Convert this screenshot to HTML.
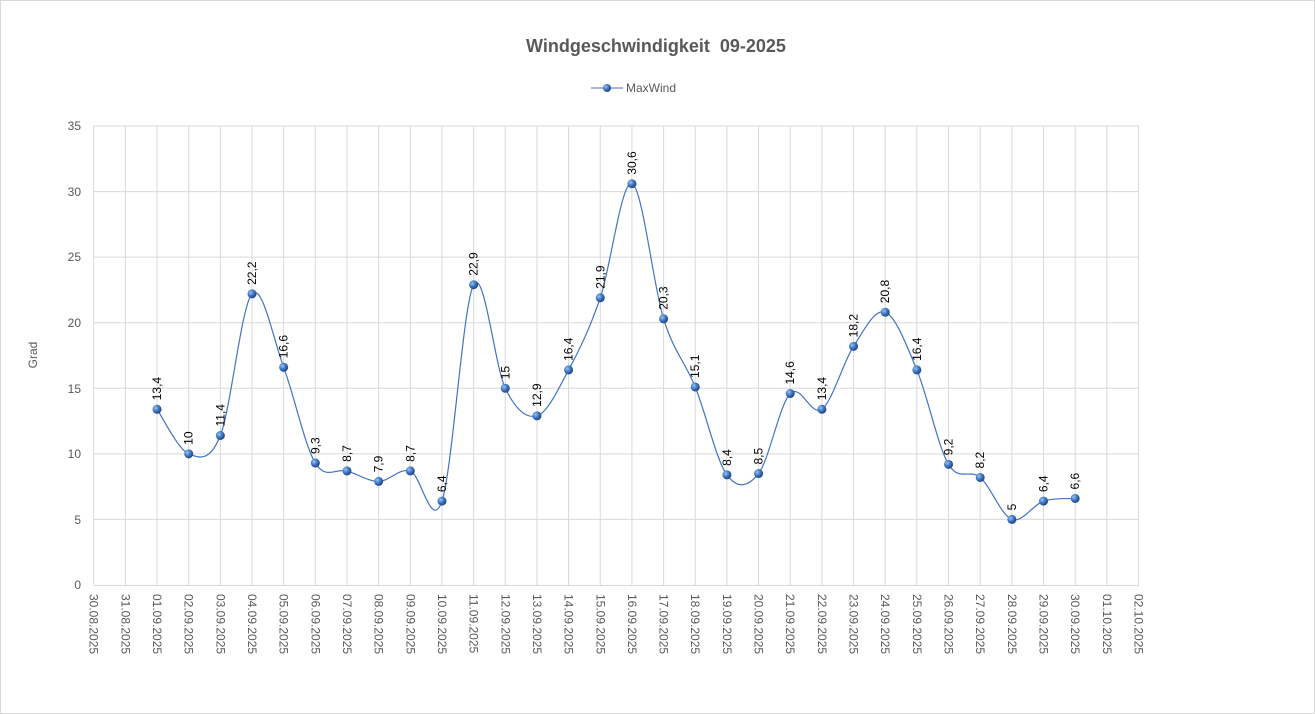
<!DOCTYPE html>
<html><head><meta charset="utf-8"><style>
html,body{margin:0;padding:0;background:#fff}
svg{display:block;font-family:"Liberation Sans",sans-serif}
</style></head><body>
<svg id="s" width="1315" height="714" viewBox="0 0 1315 714" xmlns="http://www.w3.org/2000/svg">
<defs><radialGradient id="g" cx="35%" cy="35%" r="70%"><stop offset="0" stop-color="#9cc3f0"/><stop offset="0.5" stop-color="#3f78c4"/><stop offset="1" stop-color="#1c3f78"/></radialGradient></defs>
<rect x="0.5" y="0.5" width="1314" height="713" fill="#fff" stroke="#d9d9d9"/>
<text x="656" y="52" text-anchor="middle" font-size="18" font-weight="bold" fill="#595959" style="white-space:pre">Windgeschwindigkeit  09-2025</text>
<line x1="591" y1="88" x2="623" y2="88" stroke="#4472c4" stroke-width="1"/>
<circle cx="607" cy="88" r="4" fill="url(#g)"/>
<text x="626" y="92" font-size="12" fill="#595959">MaxWind</text>
<text transform="translate(37,355) rotate(-90)" text-anchor="middle" font-size="12" fill="#595959">Grad</text>
<g id="grid" stroke="#d9d9d9" stroke-width="1"></g>
<g font-size="12" fill="#595959" text-anchor="end">
<text x="81" y="589">0</text><text x="81" y="524">5</text><text x="81" y="458">10</text><text x="81" y="393">15</text><text x="81" y="327">20</text><text x="81" y="261">25</text><text x="81" y="196">30</text><text x="81" y="130">35</text>
</g>
<g id="xl" font-size="12" fill="#595959"></g>
<path id="ln" fill="none" stroke="#4472c4" stroke-width="1.2"/>
<g id="pts"></g>
<g id="lb" font-size="12" fill="#000"></g>
</svg>
<script>
var v=[13.4,10,11.4,22.2,16.6,9.3,8.7,7.9,8.7,6.4,22.9,15,12.9,16.4,21.9,30.6,20.3,15.1,8.4,8.5,14.6,13.4,18.2,20.8,16.4,9.2,8.2,5,6.4,6.6];
function X(i){return 93.7+31.66*i;}function Y(a){return 585-13.114*a;}
var g=document.getElementById('grid'),h='';
for(var k=1;k<=7;k++){var y=Y(k*5);h+='<line x1="93.7" x2="1138.8" y1="'+y+'" y2="'+y+'"/>';}
for(var i=0;i<=33;i++){h+='<line x1="'+X(i)+'" x2="'+X(i)+'" y1="126" y2="585"/>';}
h+='<line x1="93.7" x2="1138.8" y1="585.5" y2="585.5"/>';
g.innerHTML=h;
var dates=['30.08.2025','31.08.2025'];
for(var d=1;d<=30;d++){dates.push((d<10?'0':'')+d+'.09.2025');}
dates.push('01.10.2025');dates.push('02.10.2025');
var xl='';for(var i=0;i<34;i++){var x=X(i)-4;xl+='<text transform="translate('+x+',594) rotate(90)">'+dates[i]+'</text>';}
document.getElementById('xl').innerHTML=xl;
var P=v.map(function(a,j){return [X(j+2),Y(a)];});
var d='M'+P[0][0]+','+P[0][1];
for(var j=0;j<P.length-1;j++){var p0=P[j>0?j-1:j],p1=P[j],p2=P[j+1],p3=P[j+2<P.length?j+2:j+1],t=6;
d+=' C'+(p1[0]+(p2[0]-p0[0])/t)+','+(p1[1]+(p2[1]-p0[1])/t)+' '+(p2[0]-(p3[0]-p1[0])/t)+','+(p2[1]-(p3[1]-p1[1])/t)+' '+p2[0]+','+p2[1];}
document.getElementById('ln').setAttribute('d',d);
var pts='',lb='';
P.forEach(function(p,j){pts+='<circle cx="'+p[0]+'" cy="'+p[1]+'" r="4.5" fill="url(#g)"/>';
lb+='<text transform="translate('+(p[0]+4)+','+(p[1]-9)+') rotate(-90)">'+String(v[j]).replace('.',',')+'</text>';});
document.getElementById('pts').innerHTML=pts;document.getElementById('lb').innerHTML=lb;
</script>
</body></html>
